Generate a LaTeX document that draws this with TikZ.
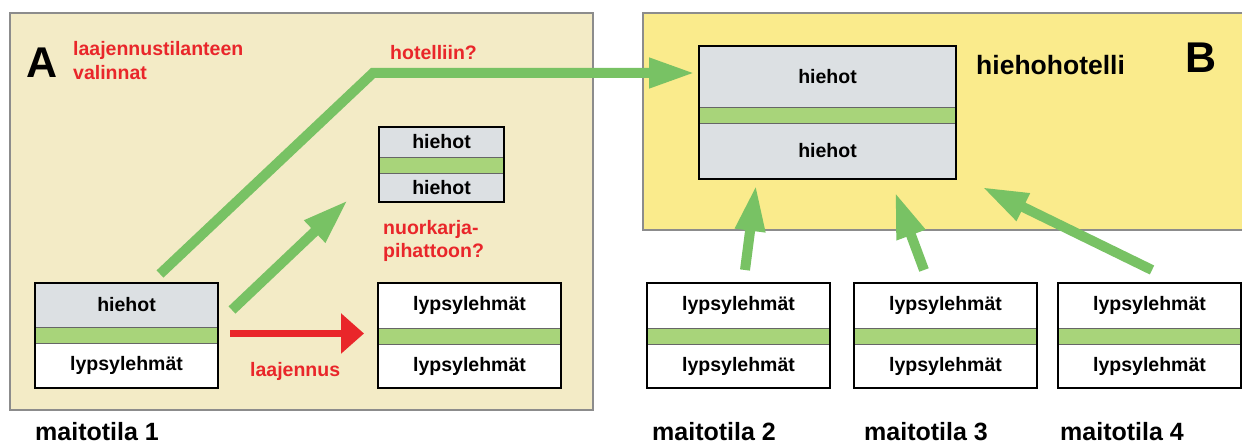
\documentclass[tikz,border=0pt]{standalone}
\usepackage{fontspec}
\setmainfont{Liberation Sans}
\usetikzlibrary{arrows.meta,positioning}
\definecolor{beige}{RGB}{243,235,198}
\definecolor{hotelyellow}{RGB}{250,235,140}
\definecolor{hgray}{RGB}{220,224,227}
\definecolor{stripegreen}{RGB}{168,212,122}
\definecolor{arrowgreen}{RGB}{120,194,100}
\definecolor{redtext}{RGB}{233,38,42}
\definecolor{panelgray}{RGB}{140,140,140}

\begin{document}
\begin{tikzpicture}[x=1pt,y=-1pt,
  sec/.style={draw=gray!80!black, line width=0.8pt, inner sep=0pt, outer sep=0pt,
    anchor=north west, font=\bfseries\fontsize{19.5}{23.5}\selectfont},
  stripe/.style={sec, fill=stripegreen, minimum height=16},
  tilaframe/.style={draw=black, line width=1.8pt},
  panel/.style={draw=panelgray, line width=1.2pt},
  garrow/.style={draw=arrowgreen, line width=10pt, line join=miter, -{Triangle[length=46pt,width=28pt]}},
  rarrow/.style={draw=redtext, line width=7pt, -{Triangle[length=23pt,width=39pt]}},
  redlabel/.style={text=redtext, font=\bfseries\fontsize{19.5}{23.5}\selectfont,
    inner sep=0pt, align=left, anchor=base west},
  tilalabel/.style={font=\bfseries\fontsize{25}{30}\selectfont, inner sep=0pt, anchor=base west},
  bigletter/.style={font=\bfseries\fontsize{43}{50}\selectfont, inner sep=0pt, anchor=base}]
  \useasboundingbox (0,0) rectangle (1242,443);

  % panels
  \draw[panel, fill=beige] (10,13) rectangle (593,410);
  \fill[hotelyellow] (643,13) rectangle (1243,230);
  \draw[panel] (1243,13) -- (643,13) -- (643,230) -- (1243,230);

  % maitotila 1
  \node[sec, fill=hgray, minimum width=183, minimum height=44] (m1a) at (35,283) {hiehot};
  \node[stripe, minimum width=183, below=0pt of m1a] (m1b) {};
  \node[sec, fill=white, minimum width=183, minimum height=45, below=0pt of m1b] (m1c) {lypsylehmät};
  \draw[tilaframe] (m1a.north west) rectangle (m1c.south east);

  % laajennus
  \node[sec, fill=white, minimum width=183, minimum height=45] (exa) at (378,283) {lypsylehmät};
  \node[stripe, minimum width=183, below=0pt of exa] (exb) {};
  \node[sec, fill=white, minimum width=183, minimum height=44, below=0pt of exb] (exc) {lypsylehmät};
  \draw[tilaframe] (exa.north west) rectangle (exc.south east);

  % nuorkarjapihatto
  \node[sec, fill=hgray, minimum width=125, minimum height=30] (npa) at (379,127) {hiehot};
  \node[stripe, minimum width=125, below=0pt of npa] (npb) {};
  \node[sec, fill=hgray, minimum width=125, minimum height=29, below=0pt of npb] (npc) {hiehot};
  \draw[tilaframe] (npa.north west) rectangle (npc.south east);

  % hiehohotelli
  \node[sec, fill=hgray, minimum width=257, minimum height=61] (hha) at (699,46) {hiehot};
  \node[stripe, minimum width=257, below=0pt of hha] (hhb) {};
  \node[sec, fill=hgray, minimum width=257, minimum height=56, below=0pt of hhb] (hhc) {hiehot};
  \draw[tilaframe] (hha.north west) rectangle (hhc.south east);

  % maitotilat 2-4
  \node[sec, fill=white, minimum width=183, minimum height=45] (m2a) at (647,283) {lypsylehmät};
  \node[stripe, minimum width=183, below=0pt of m2a] (m2b) {};
  \node[sec, fill=white, minimum width=183, minimum height=44, below=0pt of m2b] (m2c) {lypsylehmät};
  \draw[tilaframe] (m2a.north west) rectangle (m2c.south east);
  \node[sec, fill=white, minimum width=183, minimum height=45] (m3a) at (854,283) {lypsylehmät};
  \node[stripe, minimum width=183, below=0pt of m3a] (m3b) {};
  \node[sec, fill=white, minimum width=183, minimum height=44, below=0pt of m3b] (m3c) {lypsylehmät};
  \draw[tilaframe] (m3a.north west) rectangle (m3c.south east);
  \node[sec, fill=white, minimum width=183, minimum height=45] (m4a) at (1058,283) {lypsylehmät};
  \node[stripe, minimum width=183, below=0pt of m4a] (m4b) {};
  \node[sec, fill=white, minimum width=183, minimum height=44, below=0pt of m4b] (m4c) {lypsylehmät};
  \draw[tilaframe] (m4a.north west) rectangle (m4c.south east);

  % arrows
  \coordinate (h0) at (160,274);
  \coordinate (h1) at (373,73);
  \coordinate (h2) at (695,73);
  \draw[garrow] (h0) -- (h1) -- (h2);
  \coordinate (p0) at (232,310);
  \coordinate (p1) at (348,200);
  \draw[garrow] (p0) -- (p1);
  \coordinate (r0) at (230,333.5);
  \coordinate (r1) at (364,333.5);
  \draw[rarrow] (r0) -- (r1);
  \coordinate (t2) at (745,270);
  \coordinate (s2) at (756,185);
  \draw[garrow] (t2) -- (s2);
  \coordinate (t3) at (924,270);
  \coordinate (s3) at (895,192);
  \draw[garrow] (t3) -- (s3);
  \coordinate (t4) at (1152,270);
  \coordinate (s4) at (982,187);
  \draw[garrow] (t4) -- (s4);

  % labels
  \node[bigletter] (lA) at (42,78) {A};
  \node[bigletter] (lB) at (1201,73) {B};
  \node[redlabel] (valinnat) at (73,79.5) {laajennustilanteen\\valinnat};
  \node[redlabel] (hotq) at (390,59.5) {hotelliin?};
  \node[redlabel] (nuorq) at (383,258) {nuorkarja-\\pihattoon?};
  \node[redlabel] (laaj) at (250,376.5) {laajennus};
  \node[tilalabel, font=\bfseries\fontsize{26.5}{30}\selectfont] (hh) at (976,75) {hiehohotelli};
  \node[tilalabel] (t1) at (35,440) {maitotila 1};
  \node[tilalabel] (tl2) at (652,440) {maitotila 2};
  \node[tilalabel] (tl3) at (864,440) {maitotila 3};
  \node[tilalabel] (tl4) at (1060,440) {maitotila 4};
\end{tikzpicture}
\end{document}
